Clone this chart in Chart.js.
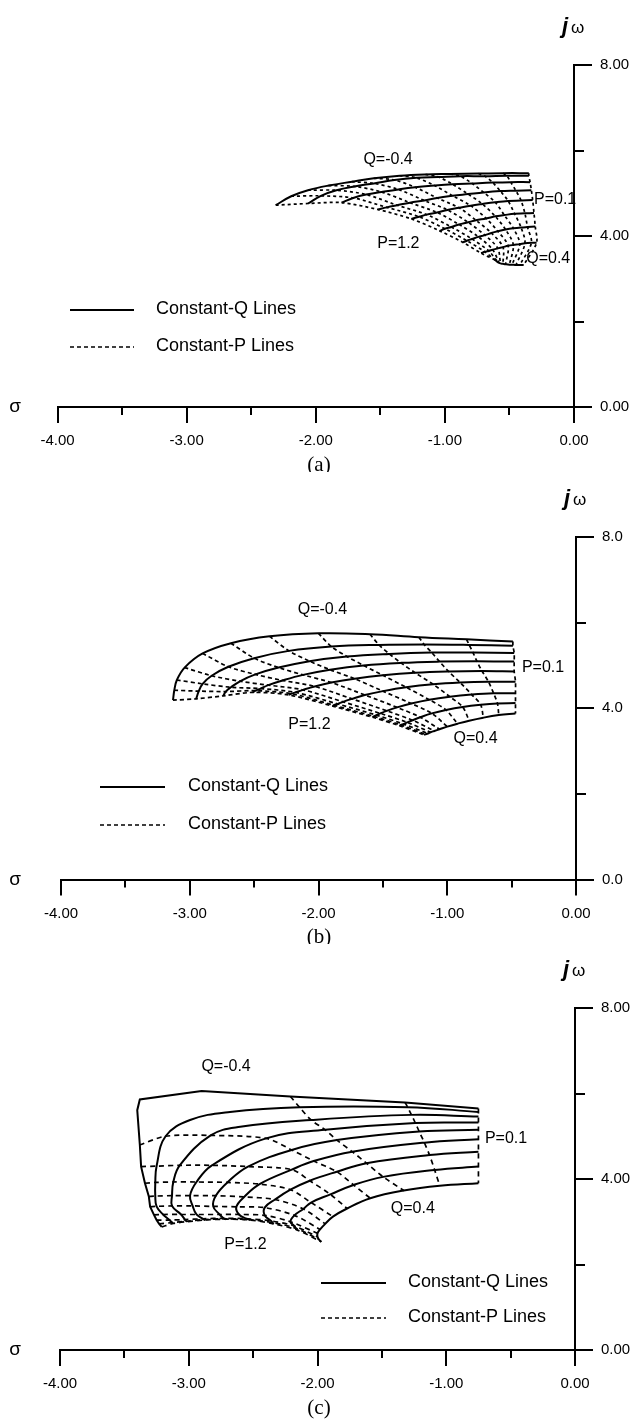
<!DOCTYPE html>
<html>
<head>
<meta charset="utf-8">
<script src="https://cdn.jsdelivr.net/npm/chart.js@4.4.0/dist/chart.umd.min.js"></script>
<style>
  html, body { margin: 0; padding: 0; background: #fff; }
  #wrap { position: relative; width: 633px; height: 1422px; overflow: hidden; }
  #wrap canvas { position: absolute; left: 0; }
</style>
</head>
<body>
<div id="wrap">
  <canvas id="chartA"></canvas>
  <canvas id="chartB"></canvas>
  <canvas id="chartC"></canvas>
</div>
<script>
// load levels: one solid curve per Q, one dashed curve per P
const qLevels = [-0.4, -0.3, -0.2, -0.1, 0, 0.1, 0.2, 0.3, 0.4];
const pLevels = [0.1, 0.2, 0.3, 0.4, 0.5, 0.6, 0.7, 0.8, 0.9, 1.0, 1.1, 1.2];

// (a) sigma / omega of each constant-Q line, P = 0.1 ... 1.2
const sigmaA = [
  [-0.35, -0.55, -0.74, -0.96, -1.15, -1.35, -1.55, -1.72, -1.90, -2.06, -2.19, -2.31],
  [-0.35, -0.52, -0.69, -0.88, -1.05, -1.22, -1.39, -1.55, -1.70, -1.84, -1.96, -2.06],
  [-0.34, -0.49, -0.63, -0.79, -0.94, -1.08, -1.23, -1.36, -1.49, -1.61, -1.71, -1.80],
  [-0.33, -0.45, -0.57, -0.70, -0.82, -0.94, -1.06, -1.16, -1.27, -1.37, -1.45, -1.52],
  [-0.32, -0.41, -0.51, -0.61, -0.71, -0.80, -0.89, -0.98, -1.06, -1.14, -1.20, -1.26],
  [-0.31, -0.38, -0.46, -0.54, -0.61, -0.68, -0.76, -0.82, -0.89, -0.95, -1.00, -1.04],
  [-0.30, -0.36, -0.41, -0.47, -0.53, -0.59, -0.64, -0.69, -0.74, -0.79, -0.83, -0.86],
  [-0.29, -0.33, -0.38, -0.42, -0.47, -0.51, -0.55, -0.59, -0.63, -0.66, -0.69, -0.72],
  [-0.39, -0.42, -0.45, -0.48, -0.50, -0.53, -0.55, -0.57, -0.58, -0.59, -0.60, -0.61]
];
const omegaA = [
  [5.47, 5.47, 5.46, 5.45, 5.44, 5.41, 5.35, 5.27, 5.18, 5.07, 4.93, 4.72],
  [5.41, 5.41, 5.40, 5.40, 5.38, 5.36, 5.31, 5.23, 5.16, 5.07, 4.94, 4.76],
  [5.26, 5.26, 5.25, 5.23, 5.21, 5.18, 5.14, 5.09, 5.03, 4.97, 4.89, 4.78],
  [5.07, 5.06, 5.05, 5.02, 4.98, 4.94, 4.89, 4.83, 4.78, 4.72, 4.67, 4.62],
  [4.84, 4.83, 4.82, 4.79, 4.75, 4.71, 4.66, 4.61, 4.55, 4.50, 4.45, 4.40],
  [4.54, 4.53, 4.52, 4.49, 4.46, 4.41, 4.37, 4.32, 4.27, 4.21, 4.17, 4.12],
  [4.22, 4.21, 4.20, 4.18, 4.15, 4.11, 4.07, 4.02, 3.98, 3.93, 3.89, 3.85],
  [3.84, 3.84, 3.83, 3.81, 3.79, 3.77, 3.74, 3.71, 3.68, 3.65, 3.63, 3.60],
  [3.32, 3.32, 3.32, 3.33, 3.33, 3.34, 3.35, 3.36, 3.37, 3.39, 3.41, 3.44]
];

// (b)
const sigmaB = [
  [-0.49, -0.85, -1.22, -1.60, -2.00, -2.38, -2.68, -2.90, -3.04, -3.10, -3.12, -3.13],
  [-0.49, -0.83, -1.18, -1.53, -1.90, -2.23, -2.50, -2.70, -2.83, -2.90, -2.93, -2.95],
  [-0.48, -0.80, -1.12, -1.45, -1.78, -2.07, -2.31, -2.49, -2.61, -2.68, -2.72, -2.74],
  [-0.48, -0.77, -1.06, -1.36, -1.65, -1.91, -2.12, -2.28, -2.39, -2.45, -2.49, -2.51],
  [-0.48, -0.73, -0.99, -1.25, -1.50, -1.72, -1.90, -2.03, -2.12, -2.18, -2.21, -2.23],
  [-0.47, -0.68, -0.90, -1.11, -1.32, -1.50, -1.64, -1.74, -1.81, -1.85, -1.88, -1.89],
  [-0.47, -0.64, -0.81, -0.98, -1.14, -1.28, -1.39, -1.47, -1.52, -1.55, -1.57, -1.58],
  [-0.47, -0.61, -0.74, -0.88, -1.01, -1.12, -1.21, -1.27, -1.31, -1.34, -1.36, -1.37],
  [-0.47, -0.60, -0.72, -0.83, -0.92, -1.00, -1.06, -1.10, -1.13, -1.15, -1.17, -1.18]
];
const omegaB = [
  [5.56, 5.61, 5.66, 5.73, 5.75, 5.68, 5.52, 5.28, 4.95, 4.66, 4.42, 4.19],
  [5.46, 5.48, 5.49, 5.48, 5.44, 5.34, 5.17, 4.97, 4.76, 4.57, 4.40, 4.22],
  [5.29, 5.30, 5.30, 5.27, 5.21, 5.10, 4.95, 4.79, 4.63, 4.49, 4.39, 4.29],
  [5.09, 5.10, 5.09, 5.06, 5.00, 4.90, 4.78, 4.65, 4.54, 4.46, 4.41, 4.37],
  [4.86, 4.87, 4.86, 4.83, 4.77, 4.69, 4.60, 4.51, 4.43, 4.37, 4.34, 4.31],
  [4.62, 4.62, 4.60, 4.56, 4.49, 4.40, 4.31, 4.22, 4.15, 4.10, 4.07, 4.05],
  [4.35, 4.35, 4.32, 4.27, 4.20, 4.11, 4.02, 3.94, 3.88, 3.84, 3.81, 3.79],
  [4.12, 4.11, 4.08, 4.03, 3.96, 3.88, 3.79, 3.72, 3.67, 3.63, 3.61, 3.59],
  [3.88, 3.84, 3.78, 3.71, 3.64, 3.57, 3.51, 3.47, 3.44, 3.41, 3.39, 3.38]
];

// (c)
const sigmaC = [
  [-0.75, -1.32, -2.21, -3.38, -3.37, -3.34, -3.31, -3.30, -3.27, -3.25, -3.23, -3.21],
  [-0.75, -1.30, -2.14, -3.18, -3.25, -3.26, -3.26, -3.25, -3.20, -3.15, -3.13, -3.12],
  [-0.75, -1.27, -2.05, -2.83, -3.07, -3.12, -3.13, -3.13, -3.06, -3.03, -3.02, -3.02],
  [-0.75, -1.24, -1.94, -2.40, -2.82, -2.94, -2.99, -2.97, -2.94, -2.89, -2.88, -2.87],
  [-0.75, -1.21, -1.85, -2.20, -2.54, -2.70, -2.79, -2.81, -2.76, -2.73, -2.72, -2.71],
  [-0.75, -1.17, -1.73, -2.03, -2.20, -2.45, -2.57, -2.63, -2.61, -2.55, -2.53, -2.52],
  [-0.75, -1.13, -1.62, -1.85, -2.06, -2.21, -2.33, -2.41, -2.41, -2.36, -2.35, -2.34],
  [-0.75, -1.09, -1.49, -1.72, -1.90, -2.05, -2.11, -2.18, -2.21, -2.18, -2.17, -2.16],
  [-0.75, -1.05, -1.33, -1.59, -1.77, -1.88, -1.94, -1.98, -2.00, -2.00, -1.99, -1.97]
];
const omegaC = [
  [5.65, 5.79, 5.93, 4.80, 4.29, 3.90, 3.59, 3.35, 3.16, 3.04, 2.95, 2.88],
  [5.57, 5.68, 5.68, 5.00, 4.30, 3.92, 3.60, 3.36, 3.17, 3.04, 2.98, 2.96],
  [5.46, 5.50, 5.38, 5.02, 4.32, 3.93, 3.61, 3.37, 3.17, 3.05, 3.01, 3.00],
  [5.32, 5.31, 5.15, 4.95, 4.32, 3.93, 3.61, 3.37, 3.17, 3.07, 3.05, 3.04],
  [5.15, 5.11, 4.91, 4.68, 4.29, 3.92, 3.61, 3.36, 3.17, 3.08, 3.07, 3.06],
  [4.93, 4.85, 4.64, 4.42, 4.22, 3.88, 3.58, 3.35, 3.17, 3.07, 3.05, 3.04],
  [4.64, 4.56, 4.37, 4.17, 3.96, 3.75, 3.52, 3.33, 3.15, 3.02, 2.98, 2.95],
  [4.29, 4.21, 4.05, 3.86, 3.64, 3.45, 3.30, 3.15, 3.00, 2.90, 2.85, 2.81],
  [3.90, 3.84, 3.73, 3.55, 3.31, 3.12, 2.95, 2.82, 2.73, 2.65, 2.59, 2.53]
];
// extra vertices of the constant-Q lines in (c) between P = 0.3 and P = 0.4
const bendC = [
  [[-2.90, 6.06], [-3.38, 5.86], [-3.40, 5.61]],
  [[-2.68, 5.57], [-2.99, 5.38]],
  [[-2.60, 5.22]],
  [], [], [], [], [], []
];

const FONT = "'Liberation Sans', Arial, Helvetica, sans-serif";

// minor ticks, axis symbols, panel tag, curve labels and legend
const decor = {
  id: 'decor',
  afterDraw(chart, args, o) {
    const { ctx, chartArea: a } = chart;
    const sx = chart.scales.x, sy = chart.scales.y;
    ctx.save();
    ctx.strokeStyle = '#000';
    ctx.fillStyle = '#000';
    ctx.lineWidth = 2;
    [-3.5, -2.5, -1.5, -0.5].forEach(v => {
      const px = Math.round(sx.getPixelForValue(v));
      ctx.beginPath(); ctx.moveTo(px, a.bottom); ctx.lineTo(px, a.bottom + 8); ctx.stroke();
    });
    [2, 6].forEach(v => {
      const py = Math.round(sy.getPixelForValue(v));
      ctx.beginPath(); ctx.moveTo(a.right, py); ctx.lineTo(a.right + 10, py); ctx.stroke();
    });

    ctx.textAlign = 'center';
    ctx.textBaseline = 'middle';
    ctx.font = '19px ' + FONT;
    ctx.fillText('\u03c3', 15, a.bottom);

    ctx.textAlign = 'left';
    ctx.textBaseline = 'alphabetic';
    ctx.font = 'italic bold 22px ' + FONT;
    ctx.fillText('j', a.right - 12, a.top - 32);
    ctx.font = '17px ' + FONT;
    ctx.fillText('\u03c9', a.right - 3, a.top - 32);

    ctx.textAlign = 'center';
    ctx.textBaseline = 'middle';
    ctx.font = "21px 'Liberation Serif', 'Times New Roman', serif";
    ctx.fillText(o.tag, 319, a.bottom + 58);

    ctx.font = '16px ' + FONT;
    o.notes.forEach(n => {
      ctx.textAlign = n.align || 'center';
      ctx.fillText(n.text, sx.getPixelForValue(n.x), sy.getPixelForValue(n.y));
    });

    const lg = o.legend;
    ctx.lineWidth = 2;
    ctx.beginPath(); ctx.moveTo(lg.x1, lg.yQ); ctx.lineTo(lg.x2, lg.yQ); ctx.stroke();
    ctx.setLineDash([4, 3]);
    ctx.lineWidth = 1.7;
    ctx.beginPath(); ctx.moveTo(lg.x1, lg.yP); ctx.lineTo(lg.x2, lg.yP); ctx.stroke();
    ctx.setLineDash([]);
    ctx.textAlign = 'left';
    ctx.font = '18px ' + FONT;
    ctx.fillText('Constant-Q Lines', lg.tx, lg.yQ - 1);
    ctx.fillText('Constant-P Lines', lg.tx, lg.yP - 1);
    ctx.restore();
  }
};

function buildChart(id, panel) {
  const cv = document.getElementById(id);
  cv.width = 633;
  cv.height = panel.h;
  cv.style.top = panel.top + 'px';

  const datasets = [];
  panel.sigma.forEach((row, k) => {
    const pts = row.map((s, i) => ({ x: s, y: panel.omega[k][i] }));
    if (panel.bend && panel.bend[k].length) {
      pts.splice(3, 0, ...panel.bend[k].map(([x, y]) => ({ x, y })));
    }
    datasets.push({
      label: 'Q=' + qLevels[k],
      data: pts,
      showLine: true,
      borderColor: '#000',
      borderWidth: 2,
      pointRadius: 0,
      tension: (panel.bend && k === 0) ? 0 : 0.4
    });
  });
  pLevels.forEach((p, i) => {
    datasets.push({
      label: 'P=' + p,
      data: panel.sigma.map((row, k) => ({ x: row[i], y: panel.omega[k][i] })),
      showLine: true,
      borderColor: '#000',
      borderWidth: 1.7,
      borderDash: panel.dash,
      pointRadius: 0,
      tension: 0.3
    });
  });

  return new Chart(cv, {
    type: 'scatter',
    data: { datasets },
    options: {
      responsive: false,
      animation: false,
      events: [],
      layout: { padding: { left: panel.left, top: panel.chartTop, right: 0, bottom: 0 } },
      scales: {
        x: {
          type: 'linear', position: 'bottom', min: -4, max: 0,
          afterFit: s => { s.height = panel.h - panel.chartBottom; },
          border: { display: true, color: '#000', width: 2 },
          grid: { display: true, drawOnChartArea: false, drawTicks: true, tickLength: 16, color: '#000', lineWidth: 2 },
          ticks: { stepSize: 1, padding: 9, color: '#000', maxRotation: 0, font: { family: FONT, size: 15 },
                   callback: v => v.toFixed(2) }
        },
        y: {
          type: 'linear', position: 'right', min: 0, max: 8,
          afterFit: s => { s.width = 633 - panel.right; },
          border: { display: true, color: '#000', width: 2 },
          grid: { display: true, drawOnChartArea: false, drawTicks: true, tickLength: 18, color: '#000', lineWidth: 2 },
          ticks: { stepSize: 4, padding: 8, color: '#000', font: { family: FONT, size: 15 },
                   callback: v => v.toFixed(panel.yDigits) }
        }
      },
      plugins: {
        legend: { display: false },
        tooltip: { enabled: false },
        decor: { tag: panel.tag, notes: panel.notes, legend: panel.legend }
      }
    },
    plugins: [decor]
  });
}

buildChart('chartA', {
  top: 0, h: 472, left: 57.5, right: 574, chartTop: 65, chartBottom: 407,
  sigma: sigmaA, omega: omegaA, yDigits: 2, tag: '(a)', dash: [3, 3],
  notes: [
    { text: 'Q=-0.4', x: -1.44, y: 5.78 },
    { text: 'P=0.1', x: -0.31, y: 4.84, align: 'left' },
    { text: 'P=1.2', x: -1.36, y: 3.83 },
    { text: 'Q=0.4', x: -0.37, y: 3.48, align: 'left' }
  ],
  legend: { x1: 70, x2: 134, tx: 156, yQ: 310, yP: 347 }
});

buildChart('chartB', {
  top: 472, h: 472, left: 61, right: 576, chartTop: 65, chartBottom: 407.5,
  sigma: sigmaB, omega: omegaB, yDigits: 1, tag: '(b)', dash: [4, 3],
  notes: [
    { text: 'Q=-0.4', x: -1.97, y: 6.30 },
    { text: 'P=0.1', x: -0.42, y: 4.96, align: 'left' },
    { text: 'P=1.2', x: -2.07, y: 3.61 },
    { text: 'Q=0.4', x: -0.78, y: 3.30 }
  ],
  legend: { x1: 100, x2: 165, tx: 188, yQ: 315, yP: 353 }
});

buildChart('chartC', {
  top: 944, h: 478, left: 60, right: 575, chartTop: 64, chartBottom: 406,
  sigma: sigmaC, omega: omegaC, bend: bendC, yDigits: 2, tag: '(c)', dash: [5, 4],
  notes: [
    { text: 'Q=-0.4', x: -2.71, y: 6.63 },
    { text: 'P=0.1', x: -0.70, y: 4.95, align: 'left' },
    { text: 'Q=0.4', x: -1.26, y: 3.30 },
    { text: 'P=1.2', x: -2.56, y: 2.46 }
  ],
  legend: { x1: 321, x2: 386, tx: 408, yQ: 339, yP: 374 }
});
</script>
</body>
</html>
